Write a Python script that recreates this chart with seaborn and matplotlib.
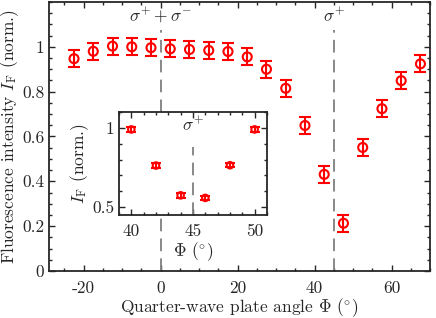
import numpy as np
import pandas as pd
import matplotlib
matplotlib.use("Agg")
import matplotlib.pyplot as plt
from matplotlib.ticker import MultipleLocator, FuncFormatter
import seaborn as sns

# ---- data ----
angle_main = [-22.5, -17.5, -12.5, -7.5, -2.5, 2.5, 7.5, 12.5, 17.5, 22.5,
              27.5, 32.5, 37.5, 42.5, 47.5, 52.5, 57.5, 62.5, 67.5]
intensity_main = [0.947, 0.980, 1.003, 1.000, 0.996, 0.991, 0.988, 0.984, 0.979, 0.955,
                  0.900, 0.815, 0.649, 0.431, 0.213, 0.551, 0.724, 0.849, 0.924]
err_main = [0.038] * len(angle_main)

angle_inset = [40, 42, 44, 46, 48, 50]
intensity_inset = [0.990, 0.762, 0.574, 0.558, 0.764, 0.990]
err_inset = [0.014] * len(angle_inset)

xticks_main = [-20, 0, 20, 40, 60]
yticks_main = [0, 0.2, 0.4, 0.6, 0.8, 1.0]
xticks_inset = [40, 45, 50]
yticks_inset = [0.5, 1.0]

df_main = pd.DataFrame({"angle": angle_main, "I": intensity_main, "err": err_main})
df_inset = pd.DataFrame({"angle": angle_inset, "I": intensity_inset, "err": err_inset})

# ---- style ----
sns.set_style("ticks")
plt.rcParams["font.family"] = ["serif"]
plt.rcParams["font.serif"] = ["cmr10"]
plt.rcParams["mathtext.fontset"] = "cm"
plt.rcParams["axes.unicode_minus"] = False
FS = 12.5
plt.rcParams["font.size"] = FS

RED = "#ff0000"
GRAY = "#7f7f7f"
DARK = "#262626"

fig = plt.figure(figsize=(4.36, 3.18), dpi=100)
ax = fig.add_axes([0.1124, 0.1478, 0.874, 0.846])
axin = fig.add_axes([0.2729, 0.3239, 0.3394, 0.3239])

fmt = FuncFormatter(lambda v, p: f"{v:g}")


def style_axes(a, lw=1.3, xpad=6.5):
    for s in a.spines.values():
        s.set_linewidth(lw)
        s.set_color(DARK)
        s.set_visible(True)
    a.tick_params(which="both", direction="in", top=True, right=True,
                  color=DARK, labelsize=FS, pad=3.5)
    a.tick_params(axis="x", which="both", pad=xpad)
    a.tick_params(which="major", length=4, width=1.0)
    a.tick_params(which="minor", length=2.5, width=1.0)


# ---- main axes ----
ax.vlines([0], 0, 1.075, colors=GRAY, linestyles=(0, (7, 4)), linewidth=1.3, zorder=1)
ax.vlines([45], 0, 1.075, colors=GRAY, linestyles=(0, (7, 4)), linewidth=1.3, zorder=1)
ax.errorbar(df_main["angle"], df_main["I"], yerr=df_main["err"], fmt="none",
            ecolor=RED, elinewidth=1.5, capsize=4.3, capthick=1.5, zorder=2)
sns.scatterplot(data=df_main, x="angle", y="I", ax=ax, marker="o", s=42,
                facecolor="none", edgecolor=RED, linewidth=1.5, zorder=3)
ax.text(0, 1.14, r"$\sigma^{+}+\sigma^{-}$", ha="center", va="center", fontsize=FS, color=DARK)
ax.text(45, 1.14, r"$\sigma^{+}$", ha="center", va="center", fontsize=FS, color=DARK)

ax.set_xlim(-29, 70)
ax.set_ylim(0, 1.2)
ax.set_xticks(xticks_main)
ax.set_yticks(yticks_main)
ax.xaxis.set_minor_locator(MultipleLocator(5))
ax.yaxis.set_minor_locator(MultipleLocator(0.05))
ax.xaxis.set_major_formatter(fmt)
ax.yaxis.set_major_formatter(fmt)
ax.set_xlabel(r"Quarter-wave plate angle $\Phi$ ($^{\circ}$)", fontsize=FS, labelpad=0)
ax.set_ylabel(r"Fluorescence intensity $I_\mathrm{F}$ (norm.)", fontsize=FS, labelpad=0.5)
style_axes(ax, xpad=7)

# ---- inset ----
axin.set_facecolor("white")
axin.vlines([45], 0.45, 0.88, colors=GRAY, linestyles=(0, (7, 4)), linewidth=1.3, zorder=1)
axin.errorbar(df_inset["angle"], df_inset["I"], yerr=df_inset["err"], fmt="none",
              ecolor=RED, elinewidth=1.5, capsize=3.5, capthick=1.5, zorder=2)
sns.scatterplot(data=df_inset, x="angle", y="I", ax=axin, marker="o", s=22,
                facecolor="none", edgecolor=RED, linewidth=1.5, zorder=3)
axin.text(45, 1.02, r"$\sigma^{+}$", ha="center", va="center", fontsize=FS, color=DARK)
axin.set_xlim(39, 51)
axin.set_ylim(0.45, 1.1)
axin.set_xticks(xticks_inset)
axin.set_yticks(yticks_inset)
axin.xaxis.set_minor_locator(MultipleLocator(1))
axin.yaxis.set_minor_locator(MultipleLocator(0.1))
axin.xaxis.set_major_formatter(fmt)
axin.yaxis.set_major_formatter(fmt)
axin.set_xlabel(r"$\Phi$ ($^{\circ}$)", fontsize=FS, labelpad=1)
axin.set_ylabel(r"$I_\mathrm{F}$ (norm.)", fontsize=FS, labelpad=1)
style_axes(axin, xpad=6.5)

fig.savefig("out.png", dpi=100)
